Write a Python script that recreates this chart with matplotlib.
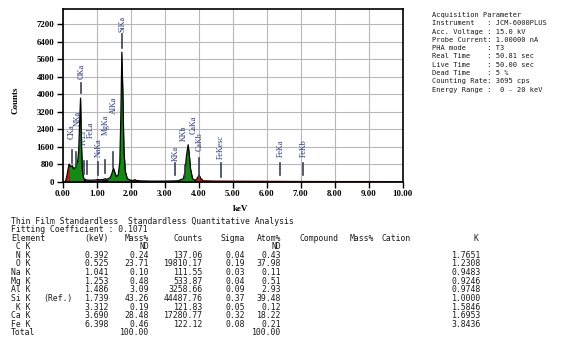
import numpy as np
import matplotlib.pyplot as plt

W, H = 574, 338

# spectrum (keV, counts)
energy = [0.00, 0.08, 0.12, 0.16, 0.19, 0.20, 0.24, 0.28, 0.32, 0.36, 0.40, 0.44, 0.47, 0.50, 0.525,
          0.55, 0.58, 0.62, 0.70, 0.80, 0.95, 1.04, 1.10, 1.20, 1.25, 1.30, 1.40, 1.45, 1.49, 1.53,
          1.58, 1.63, 1.68, 1.71, 1.74, 1.77, 1.80, 1.84, 1.90, 2.00, 2.08, 2.12, 2.16, 2.30, 2.60,
          3.00, 3.30, 3.40, 3.55, 3.60, 3.64, 3.69, 3.72, 3.76, 3.82, 3.90, 3.95, 4.01, 4.07, 4.15,
          4.40, 5.00, 6.00, 7.00, 8.00, 9.00, 10.00]
counts = [0, 30, 250, 600, 820, 780, 700, 750, 600, 650, 750, 950, 1400, 2800, 3830,
          1800, 500, 150, 90, 80, 90, 110, 100, 120, 150, 120, 200, 400, 640, 450,
          250, 300, 900, 3000, 5930, 4000, 1500, 500, 150, 80, 70, 110, 70, 50, 40,
          40, 50, 60, 150, 500, 1200, 1700, 1300, 600, 150, 70, 150, 320, 140, 50,
          30, 25, 20, 15, 10, 10, 5]

green_ranges = [(0.19, 0.60), (1.38, 1.90), (3.50, 3.86)]
red_ranges = [(0.05, 0.19), (2.04, 2.20), (3.92, 4.12)]

# KLM markers
line_names = ['CKa', 'NKa', 'OKa', 'FeLl', 'FeLa', 'NaKa', 'MgKa', 'AlKa', 'SiKa',
              'KKa', 'KKb', 'CaKa', 'CaKb', 'FeKesc', 'FeKa', 'FeKb']
line_kev = [0.277, 0.392, 0.525, 0.615, 0.705, 1.041, 1.253, 1.486, 1.739,
            3.312, 3.589, 3.690, 4.012, 4.660, 6.398, 7.057]
label_x = [0.27, 0.43, 0.55, 0.62, 0.83, 1.05, 1.28, 1.50, 1.75,
           3.32, 3.57, 3.85, 4.02, 4.66, 6.40, 7.08]
label_y = [2300, 2900, 5050, 2050, 2370, 1550, 2600, 3500, 7230,
           1320, 2230, 2600, 1820, 1600, 1550, 1550]
mark_lo = [860, 680, 4050, 350, 350, 300, 400, 680, 6140, 320, 180, None, 230, 230, 320, 320]
mark_hi = [1450, 1365, 4500, 950, 950, 900, 1000, 1370, 6780, 860, 770, None, 1100, 860, 860, 860]

acq_lines = ['Acquisition Parameter',
             'Instrument   : JCM-6000PLUS',
             'Acc. Voltage : 15.0 kV',
             'Probe Current: 1.00000 nA',
             'PHA mode     : T3',
             'Real Time    : 50.81 sec',
             'Live Time    : 50.00 sec',
             'Dead Time    : 5 %',
             'Counting Rate: 3695 cps',
             'Energy Range :  0 - 20 keV']

elements = [' C K', ' N K', ' O K', 'Na K', 'Mg K', 'Al K', 'Si K', ' K K', 'Ca K', 'Fe K']
notes = ['', '', '', '', '', '', '(Ref.)', '', '', '']
kev = ['', '0.392', '0.525', '1.041', '1.253', '1.486', '1.739', '3.312', '3.690', '6.398']
mass = ['ND', '0.24', '23.71', '0.10', '0.48', '3.09', '43.26', '0.19', '28.48', '0.46']
cnts = ['', '137.06', '19810.17', '111.55', '533.87', '3258.66', '44487.76', '121.83', '17280.77', '122.12']
sigma = ['', '0.04', '0.19', '0.03', '0.04', '0.09', '0.37', '0.05', '0.32', '0.08']
atom = ['ND', '0.43', '37.98', '0.11', '0.51', '2.93', '39.48', '0.12', '18.22', '0.21']
kfac = ['', '1.7651', '1.2308', '0.9483', '0.9246', '0.9748', '1.0000', '1.5846', '1.6953', '3.8436']

fig = plt.figure(figsize=(W / 100, H / 100), dpi=100)
ax = fig.add_axes([62.7 / W, 1 - 182 / H, 340 / W, 173 / H])

e = np.array(energy)
c = np.array(counts)
ax.fill_between(e, c, 0, color='#111111', lw=0)
for a, b in green_ranges:
    ax.fill_between(e, c, 0, where=(e >= a) & (e <= b), color='#138a13', lw=0, interpolate=True)
for a, b in red_ranges:
    ax.fill_between(e, c, 0, where=(e >= a) & (e <= b), color='#c01818', lw=0, interpolate=True)
ax.plot(e, c, color='black', lw=0.9)
ax.plot(e[e >= 4.1], c[e >= 4.1], color='#8b1010', lw=1.2)

for i, name in enumerate(line_names):
    if mark_lo[i] is not None:
        ax.plot([line_kev[i], line_kev[i]], [mark_lo[i], mark_hi[i]], color='#3a3f55', lw=1.2)
    ax.text(label_x[i], label_y[i], name, rotation=90, ha='center', va='center',
            fontsize=5.8, family='Liberation Serif', color='#26357a')

ax.set_xlim(0, 10)
ax.set_ylim(0, 7900)
ax.set_xticks(np.arange(0, 11, 1))
ax.set_xticklabels(['%.2f' % v for v in range(11)])
ax.set_yticks(np.arange(0, 7201, 800))
ax.grid(True, color='#b8b8b8', lw=0.8)
ax.set_axisbelow(True)
for s in ax.spines.values():
    s.set_linewidth(1.2)
ax.tick_params(direction='out', length=4, width=1, pad=2, labelsize=6.3)
for lab in ax.get_xticklabels() + ax.get_yticklabels():
    lab.set_family('Liberation Serif')
    lab.set_fontweight('bold')

fig.text(15 / W, 1 - 100 / H, 'Counts', rotation=90, ha='center', va='center',
         fontsize=6.5, family='Liberation Serif', fontweight='bold')
fig.text(240 / W, 1 - 209 / H, 'keV', ha='center', va='center',
         fontsize=6.5, family='Liberation Serif', fontweight='bold')

mono = dict(family='DejaVu Sans Mono', va='center', color='#1a1a1a')

for i, line in enumerate(acq_lines):
    fig.text(432 / W, 1 - (15 + 8.3 * i) / H, line, ha='left', fontsize=5.0, **mono)


def put(x, row, s, ha='left'):
    fig.text(x / W, 1 - (221 + 8.6 * row) / H, s, ha=ha, fontsize=5.9, **mono)


put(11, 0, 'Thin Film Standardless  Standardless Quantitative Analysis')
put(11, 1, 'Fitting Coefficient : 0.1071')
put(11, 2, 'Element')
put(109, 2, '(keV)', 'right')
put(149, 2, 'Mass%', 'right')
put(203, 2, 'Counts', 'right')
put(245, 2, 'Sigma', 'right')
put(281, 2, 'Atom%', 'right')
put(300, 2, 'Compound')
put(350, 2, 'Mass%')
put(381, 2, 'Cation')
put(478, 2, 'K', 'right')
for i in range(len(elements)):
    r = 3 + i
    put(11, r, elements[i])
    put(43, r, notes[i])
    put(109, r, kev[i], 'right')
    put(149, r, mass[i], 'right')
    put(203, r, cnts[i], 'right')
    put(245, r, sigma[i], 'right')
    put(281, r, atom[i], 'right')
    put(481, r, kfac[i], 'right')
put(11, 13, 'Total')
put(149, 13, '100.00', 'right')
put(281, 13, '100.00', 'right')

plt.savefig('out.png', dpi=100)
